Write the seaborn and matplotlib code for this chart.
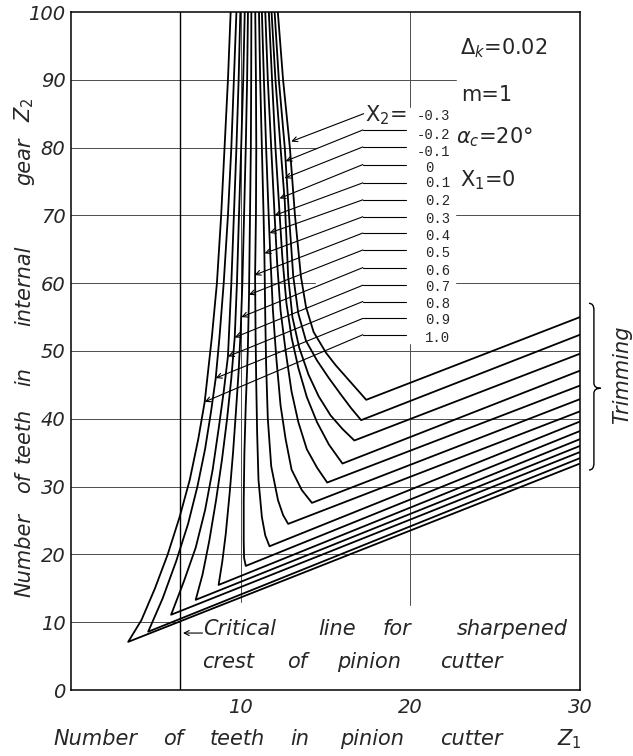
import pandas as pd
import matplotlib
matplotlib.use("Agg")
import matplotlib.pyplot as plt
import seaborn as sns
from matplotlib.path import Path
from matplotlib.patches import PathPatch

# -----------------------------
# Data
# -----------------------------
x2_labels = ["-0.3", "-0.2", "-0.1", "0", "0.1", "0.2", "0.3",
             "0.4", "0.5", "0.6", "0.7", "0.8", "0.9", "1.0"]

# left branch of every curve, from Z2 = 100 down towards its corner
branch_m03 = [(12.19, 100), (12.5, 90), (12.9, 80), (13.2, 70), (13.55, 61), (13.85, 56.5),
              (14.3, 52.8), (15.04, 49.7), (15.6, 47.9), (16.2, 46.2), (16.8, 44.5)]
branch_m02 = [(12.0, 100), (12.25, 90), (12.6, 80), (12.85, 70), (13.1, 61), (13.4, 55.5),
              (13.85, 51.5), (14.5, 48.6), (15.2, 46.0), (15.9, 43.6), (16.5, 41.6)]
branch_m01 = [(11.82, 100), (12.05, 90), (12.35, 80), (12.6, 72), (12.8, 61), (13.05, 55),
              (13.45, 50.5), (14.0, 46.5), (14.6, 43.3), (15.3, 40.5), (16.0, 38.5)]
branch_p00 = [(11.66, 100), (11.85, 90), (12.05, 80), (12.25, 72), (12.45, 64), (12.7, 57),
              (13.0, 52), (13.4, 47.5), (13.9, 43.2), (14.5, 39.5), (15.2, 36.2)]
branch_p01 = [(11.45, 100), (11.6, 90), (11.8, 80), (12.0, 70), (12.15, 63), (12.35, 56),
              (12.65, 50), (13.0, 44), (13.4, 39.5), (13.9, 35.5), (14.5, 32.8)]
branch_p02 = [(11.25, 100), (11.37, 90), (11.5, 80), (11.65, 70), (11.75, 64), (11.9, 56),
              (12.1, 49), (12.35, 42), (12.65, 37), (13.0, 32.5), (13.6, 29.5)]
branch_p03 = [(11.08, 100), (11.15, 90), (11.25, 80), (11.35, 70), (11.4, 64), (11.45, 55),
              (11.5, 48), (11.6, 40), (11.8, 33), (12.2, 28), (12.5, 25.8)]
branch_p04 = [(10.86, 100), (10.9, 90), (10.92, 80), (10.9, 70), (10.85, 61), (10.88, 52),
              (10.92, 45), (10.97, 38), (11.05, 31), (11.25, 25.5), (11.45, 22.8)]
branch_p05 = [(10.63, 100), (10.62, 90), (10.6, 80), (10.55, 70), (10.49, 58), (10.42, 50),
              (10.3, 42), (10.22, 35), (10.18, 28), (10.18, 22), (10.2, 19.5)]
branch_p06 = [(10.43, 100), (10.38, 90), (10.3, 80), (10.2, 70), (10.1, 60), (10.0, 53),
              (9.88, 47), (9.72, 41), (9.55, 35), (9.35, 29), (9.12, 23), (8.92, 19)]
branch_p07 = [(10.24, 100), (10.15, 90), (10.03, 80), (9.9, 70), (9.78, 60), (9.65, 52),
              (9.45, 46), (9.2, 40), (8.9, 34), (8.55, 28), (8.15, 22), (7.75, 17)]
branch_p08 = [(9.98, 100), (9.88, 90), (9.75, 80), (9.6, 70), (9.45, 60), (9.25, 49.2),
              (9.0, 44), (8.7, 38.5), (8.35, 32.5), (7.9, 26.5), (7.35, 21), (6.65, 16)]
branch_p09 = [(9.75, 100), (9.6, 90), (9.45, 80), (9.25, 70), (9.0, 60), (8.75, 52),
              (8.53, 46), (8.25, 41), (7.9, 35.5), (7.45, 30), (6.9, 24.5), (6.2, 19), (5.4, 13.5)]
branch_p10 = [(9.41, 100), (9.25, 90), (9.05, 80), (8.85, 70), (8.6, 60), (8.3, 52),
              (7.88, 42.5), (7.5, 37), (7.0, 31), (6.4, 25.5), (5.7, 20), (4.95, 15), (4.15, 10.3)]

# corner of every curve and where its straight part meets Z1 = 30
corner_z1 = [17.4, 17.1, 16.7, 16.0, 15.1, 14.2, 12.8, 11.7, 10.3, 8.7, 7.35, 5.9, 4.55, 3.37]
corner_z2 = [42.8, 39.8, 36.8, 33.4, 30.6, 27.6, 24.5, 21.2, 18.3, 15.5, 13.3, 11.1, 8.6, 7.1]
end_z2 = [55.0, 52.4, 49.6, 47.1, 44.9, 42.9, 41.1, 39.6, 38.2, 37.0, 36.0, 35.1, 34.2, 33.4]

# leader arrows of the X2 labels
tip_z1 = [12.98, 12.65, 12.59, 12.29, 12.0, 11.7, 11.41, 10.82, 10.49, 10.04, 9.65, 9.25, 8.53, 7.88]
tip_z2 = [80.9, 78.0, 75.5, 72.5, 70.0, 67.4, 64.4, 61.2, 58.3, 55.0, 52.0, 49.2, 46.0, 42.5]
leader_z2 = [85.0, 82.6, 80.1, 77.5, 74.8, 72.3, 69.8, 67.4, 64.9, 62.3, 59.7, 57.3, 54.8, 52.4]
label_z2 = [84.6, 81.9, 79.4, 77.0, 74.8, 72.1, 69.5, 66.9, 64.5, 61.8, 59.5, 56.9, 54.5, 51.9]

critical_z1 = 6.4

branches = [branch_m03, branch_m02, branch_m01, branch_p00, branch_p01, branch_p02, branch_p03,
            branch_p04, branch_p05, branch_p06, branch_p07, branch_p08, branch_p09, branch_p10]

rows = []
for lab, pts, cx, cy, ey in zip(x2_labels, branches, corner_z1, corner_z2, end_z2):
    seq = list(pts) + [(cx, cy), (30, ey)]
    for i, (a, b) in enumerate(seq):
        rows.append({"X2": lab, "step": i, "Z1": a, "Z2": b})
df = pd.DataFrame(rows)

# -----------------------------
# Theme
# -----------------------------
sns.set_theme(style="white")
plt.rcParams["font.family"] = ["DejaVu Sans"]
plt.rcParams["mathtext.fontset"] = "dejavusans"

W, H = 633, 756
fig = plt.figure(figsize=(W / 100, H / 100), dpi=100)
ax = fig.add_axes([71 / W, 1 - 690 / H, (580 - 71) / W, (690 - 12) / H])


def fx(px):
    return px / W


def fy(py):
    return 1 - py / H


# grid pieces (broken where the chart has text)
grid = dict(color="0.3", lw=0.7, zorder=1)
ax.plot([0, 22.7], [90, 90], **grid)
ax.plot([0, 14.5], [80, 80], **grid)
ax.plot([0, 13.5], [70, 70], **grid)
ax.plot([22.7, 30], [70, 70], **grid)
ax.plot([0, 14.4], [60, 60], **grid)
ax.plot([22.7, 30], [60, 60], **grid)
for yy in [50, 40, 30, 20]:
    ax.plot([0, 30], [yy, yy], **grid)
ax.plot([0, critical_z1], [10, 10], **grid)
ax.plot([10, 10], [13, 100], **grid)
ax.plot([20, 20], [12.5, 51], **grid)
ax.plot([20, 20], [86, 100], **grid)

# critical line for sharpened crest
ax.plot([critical_z1, critical_z1], [0, 100], color="black", lw=1.0, zorder=2)

# curves
sns.lineplot(data=df, x="Z1", y="Z2", units="X2", estimator=None, sort=False,
             color="black", linewidth=1.3, legend=False, ax=ax, zorder=3)

# leaders and labels
for i, lab in enumerate(x2_labels):
    if i == 0:
        start = (17.25, leader_z2[i])
    else:
        ax.plot([19.75, 17.2], [leader_z2[i], leader_z2[i]], color="black", lw=0.8)
        start = (17.2, leader_z2[i])
    ax.annotate("", xy=(tip_z1[i], tip_z2[i]), xytext=start,
                arrowprops=dict(arrowstyle="->", lw=0.8, color="black",
                                shrinkA=0, shrinkB=0, mutation_scale=9))
    lx = 20.4 if lab.startswith("-") else 20.85
    ax.text(lx, label_z2[i], lab, family="Liberation Mono", fontsize=10,
            ha="left", va="center")

ax.text(17.3, 84.8, "X$_2$=", fontsize=15, ha="left", va="center")

# parameters
ax.text(22.9, 94.6, "$\\Delta_k$=0.02", fontsize=15, ha="left", va="center")
ax.text(23.0, 87.8, "m=1", fontsize=15, ha="left", va="center")
ax.text(22.7, 81.6, "$\\alpha_c$=20°", fontsize=15, ha="left", va="center")
ax.text(22.9, 75.2, "X$_1$=0", fontsize=15, ha="left", va="center")

# critical line note
ax.annotate("", xy=(6.6, 8.4), xytext=(7.75, 8.4),
            arrowprops=dict(arrowstyle="->", lw=0.8, color="black",
                            shrinkA=0, shrinkB=0, mutation_scale=9))
note = dict(fontsize=15, style="italic", va="baseline", ha="left")
for word, px in [("Critical", 203), ("line", 318), ("for", 383), ("sharpened", 457)]:
    fig.text(fx(px), fy(635), word, **note)
for word, px in [("crest", 202), ("of", 287), ("pinion", 337), ("cutter", 440)]:
    fig.text(fx(px), fy(668), word, **note)

# axis labels, word by word as spaced in the original
for word, px in [("Number", 53), ("of", 163), ("teeth", 210), ("in", 290),
                 ("pinion", 340), ("cutter", 440), ("Z$_1$", 557)]:
    fig.text(fx(px), fy(745), word, **note)
for word, py in [("Number", 555), ("of", 483), ("teeth", 435), ("in", 377),
                 ("internal", 286), ("gear", 161), ("Z$_2$", 110)]:
    fig.text(fx(24), fy(py), word, fontsize=15, style="italic", rotation=90,
             ha="center", va="center")

# trimming brace
verts = [(30.53, 57.03), (30.82, 57.03), (30.82, 56.05), (30.82, 45.28),
         (30.82, 44.5), (31.22, 44.5), (30.82, 44.5), (30.82, 43.76),
         (30.82, 33.44), (30.82, 32.45), (30.53, 32.45)]
codes = [Path.MOVETO, Path.CURVE3, Path.CURVE3, Path.LINETO,
         Path.CURVE3, Path.CURVE3, Path.CURVE3, Path.CURVE3,
         Path.LINETO, Path.CURVE3, Path.CURVE3]
ax.add_patch(PathPatch(Path(verts, codes), fill=False, lw=1.0, color="black",
                       clip_on=False))
fig.text(fx(622), fy(375), "Trimming", fontsize=15, style="italic", rotation=90,
         ha="center", va="center")

# axes
ax.set_xlim(0, 30)
ax.set_ylim(0, 100)
ax.set_xticks([10, 20, 30])
ax.set_yticks(range(0, 101, 10))
ax.tick_params(axis="x", direction="in", length=9, width=0.8, pad=6, labelsize=14)
ax.tick_params(axis="y", length=0, pad=4, labelsize=14)
for t in ax.get_xticklabels() + ax.get_yticklabels():
    t.set_fontstyle("italic")
ax.set_xlabel("")
ax.set_ylabel("")
for s in ax.spines.values():
    s.set_visible(True)
    s.set_color("black")
    s.set_linewidth(1.1)

fig.savefig("out.png", dpi=100)
plt.close(fig)
